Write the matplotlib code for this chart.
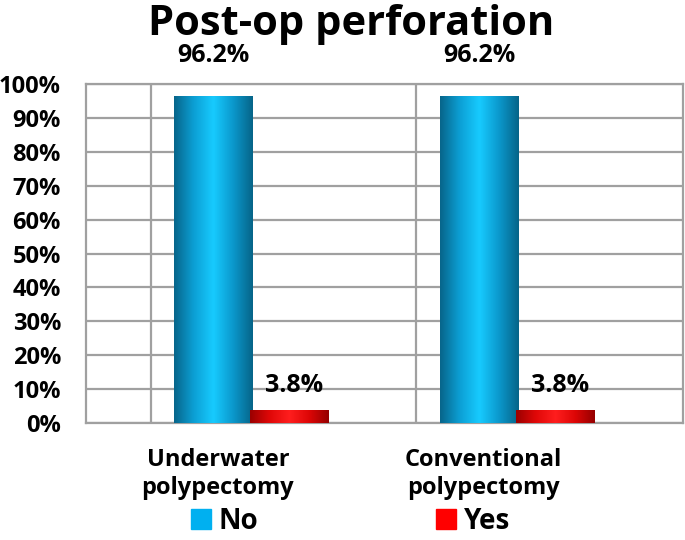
import numpy as np
import matplotlib
matplotlib.use("Agg")
import matplotlib.pyplot as plt
from matplotlib.colors import LinearSegmentedColormap
from matplotlib.patches import Patch

plt.rcParams['font.family'] = ['Open Sans', 'DejaVu Sans']
plt.rcParams['font.weight'] = 'bold'

# data
categories = ['Underwater\npolypectomy', 'Conventional\npolypectomy']
no_vals = [96.2, 96.2]
yes_vals = [3.8, 3.8]
series_names = ['No', 'Yes']

blue_cmap = LinearSegmentedColormap.from_list(
    'blue', ['#07658a', '#0c9fd4', '#17cbff', '#0b98cc', '#066488'])
red_cmap = LinearSegmentedColormap.from_list(
    'red', ['#9a0000', '#e00808', '#ff1e1e', '#dd0606', '#950000'])

fig = plt.figure(figsize=(6.85, 5.4), dpi=100)
ax = fig.add_axes([0.1255, 0.2167, 0.8715, 0.6277])

x = np.arange(len(categories))
w = 0.297
off = 0.143
bars_no = ax.bar(x - off, no_vals, w, color='#0fb0e8', zorder=3)
bars_yes = ax.bar(x + off, yes_vals, w, color='#ff0000', zorder=4)

# cylinder-like shading
grad = np.linspace(0, 1, 256).reshape(1, -1)
for bars, cmap, z in [(bars_no, blue_cmap, 3.5), (bars_yes, red_cmap, 4.5)]:
    for b in bars:
        bx, bw, bh = b.get_x(), b.get_width(), b.get_height()
        ax.imshow(grad, cmap=cmap, aspect='auto', extent=[bx, bx + bw, 0, bh],
                  zorder=z, interpolation='bicubic')

ax.set_xlim(-0.623, 1.625)
ax.set_ylim(0, 100)

# grid
ax.set_yticks(np.arange(0, 101, 10))
ax.set_yticklabels([f'{v}%' for v in range(0, 101, 10)], fontsize=17, fontweight='bold')
ax.yaxis.grid(True, color='#a0a0a0', linewidth=1.6, zorder=1)
for xv in x - 0.379:
    ax.axvline(xv, color='#a0a0a0', linewidth=1.6, zorder=1)
for s in ax.spines.values():
    s.set_color('#a0a0a0')
    s.set_linewidth(1.6)
ax.tick_params(length=0)
ax.tick_params(axis='y', pad=18)

ax.set_xticks(x - 0.126)
ax.set_xticklabels(categories, fontsize=17, fontweight='bold', linespacing=1.2)
ax.tick_params(axis='x', pad=18)

# value labels
for b, v in zip(bars_no, no_vals):
    ax.annotate(f'{v}%', (b.get_x() + b.get_width() / 2, v), xytext=(0, 25),
                textcoords='offset points', ha='center', va='baseline',
                fontsize=18, fontweight='bold', annotation_clip=False)
for b, v in zip(bars_yes, yes_vals):
    ax.annotate(f'{v}%', (b.get_x() + b.get_width() / 2, v), xytext=(3.6, 13),
                textcoords='offset points', ha='center', va='baseline',
                fontsize=18, fontweight='bold')

fig.text(0.512, 0.935, 'Post-op perforation', fontsize=30, fontweight='bold',
         ha='center', va='baseline')

handles = [Patch(color='#00b0f0'), Patch(color='#ff0000')]
fig.legend(handles, series_names, loc='lower center', bbox_to_anchor=(0.512, -0.038),
           ncol=2, frameon=False, handlelength=0.7, handleheight=0.7,
           handletextpad=0.29, columnspacing=6.4, prop={'weight': 'bold', 'size': 20})

fig.savefig('out.png', dpi=100)
